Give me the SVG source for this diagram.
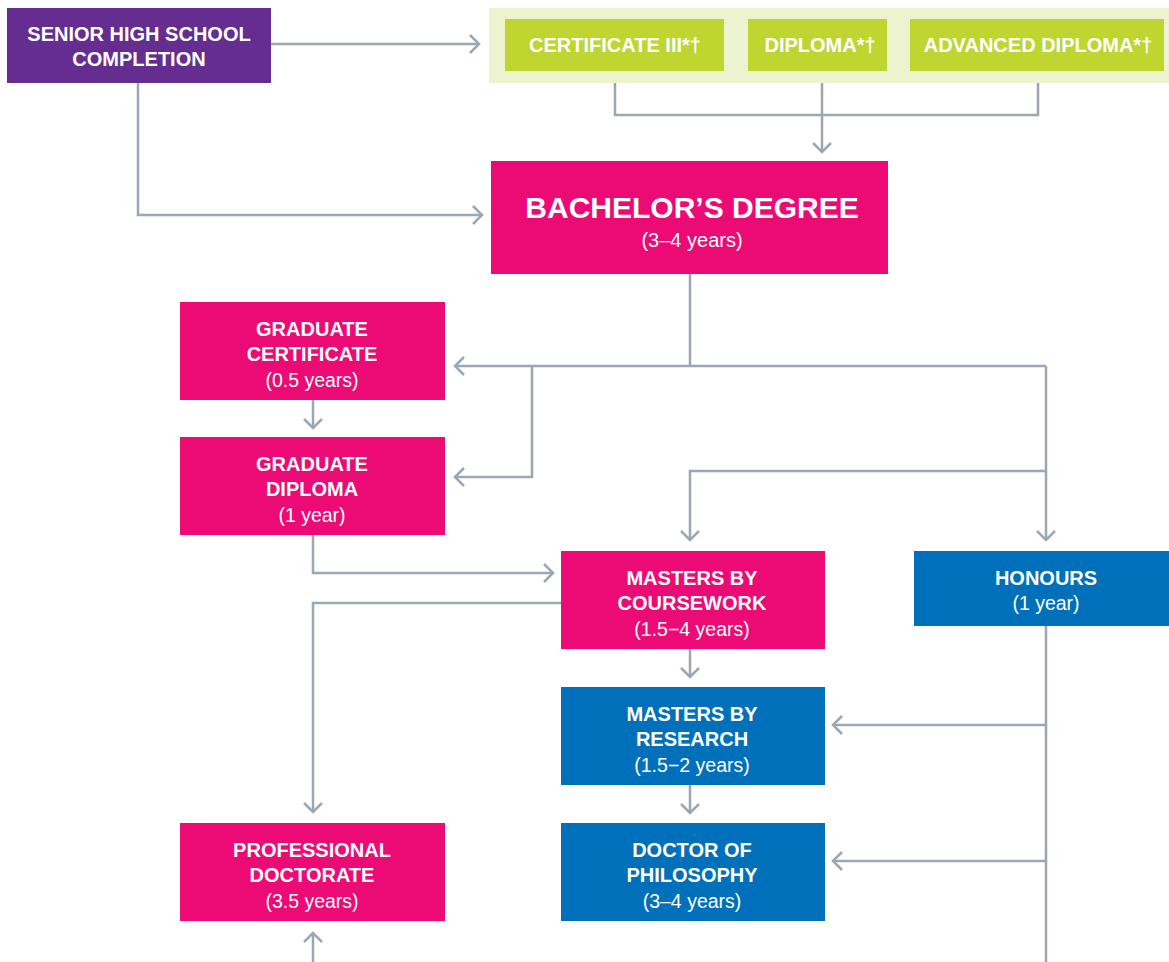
<svg xmlns="http://www.w3.org/2000/svg" width="1169" height="962" viewBox="0 0 1169 962">
<defs>
<style>
.t{font-family:"Liberation Sans",Arial,sans-serif;font-weight:bold;font-size:20px;fill:#fff;text-anchor:middle}
.y{font-family:"Liberation Sans",Arial,sans-serif;font-size:19.5px;fill:#fff;text-anchor:middle}
.pink{fill:#EC0A75}
.blue{fill:#0070BA}
.green{fill:#BED62F}
.c{fill:none;stroke:#9BA7B3;stroke-width:2.5}
</style>
<marker id="arr" viewBox="-12 -12 24 24" refX="0" refY="0" markerWidth="24" markerHeight="24" markerUnits="userSpaceOnUse" orient="auto">
<path d="M-9,-9 L0,0 L-9,9" fill="none" stroke="#9BA7B3" stroke-width="2.5"/>
</marker>
</defs>
<rect width="1169" height="962" fill="#fff"/>

<g id="connectors">
<path class="c" d="M271,44 H479" marker-end="url(#arr)"/>
<path class="c" d="M138,83 V215 H482" marker-end="url(#arr)"/>
<path class="c" d="M615,83 V115 H1038 V83"/>
<path class="c" d="M822,83 V152" marker-end="url(#arr)"/>
<path class="c" d="M690,274 V366"/>
<path class="c" d="M1046,366 H455" marker-end="url(#arr)"/>
<path class="c" d="M532,366 V477 H455" marker-end="url(#arr)"/>
<path class="c" d="M1046,366 V540" marker-end="url(#arr)"/>
<path class="c" d="M1046,471 H690 V540" marker-end="url(#arr)"/>
<path class="c" d="M313,400 V428" marker-end="url(#arr)"/>
<path class="c" d="M313,535 V573 H553" marker-end="url(#arr)"/>
<path class="c" d="M561,603 H313 V812" marker-end="url(#arr)"/>
<path class="c" d="M690,649 V677" marker-end="url(#arr)"/>
<path class="c" d="M690,785 V813" marker-end="url(#arr)"/>
<path class="c" d="M1046,626 V962"/>
<path class="c" d="M1046,725 H833" marker-end="url(#arr)"/>
<path class="c" d="M1046,861 H833" marker-end="url(#arr)"/>
<path class="c" d="M313,962 V933" marker-end="url(#arr)"/>
</g>

<g id="senior-high-school">
<rect x="7" y="8" width="264" height="75" fill="#652D8F"/>
<text class="t" x="139" y="41">SENIOR HIGH SCHOOL</text>
<text class="t" x="139" y="66">COMPLETION</text>
</g>

<g id="vet-group">
<rect x="489" y="8" width="690" height="75" fill="#EDF3CE"/>
</g>
<g id="certificate-iii">
<rect class="green" x="505" y="19" width="219" height="52"/>
<text class="t" x="615" y="52">CERTIFICATE III*†</text>
</g>
<g id="diploma">
<rect class="green" x="748" y="19" width="139" height="52"/>
<text class="t" x="820" y="52">DIPLOMA*†</text>
</g>
<g id="advanced-diploma">
<rect class="green" x="910" y="19" width="254" height="52"/>
<text class="t" x="1038" y="52">ADVANCED DIPLOMA*†</text>
</g>

<g id="bachelors-degree">
<rect class="pink" x="491" y="161" width="397" height="113"/>
<text class="t" x="692" y="218" style="font-size:30px">BACHELOR’S DEGREE</text>
<text class="y" x="692" y="247" style="font-size:20px">(3–4 years)</text>
</g>

<g id="graduate-certificate">
<rect class="pink" x="180" y="302" width="265" height="98"/>
<text class="t" x="312" y="336">GRADUATE</text>
<text class="t" x="312" y="361">CERTIFICATE</text>
<text class="y" x="312" y="387">(0.5 years)</text>
</g>

<g id="graduate-diploma">
<rect class="pink" x="180" y="437" width="265" height="98"/>
<text class="t" x="312" y="471">GRADUATE</text>
<text class="t" x="312" y="496">DIPLOMA</text>
<text class="y" x="312" y="522">(1 year)</text>
</g>

<g id="masters-by-coursework">
<rect class="pink" x="561" y="551" width="264" height="98"/>
<text class="t" x="692" y="585">MASTERS BY</text>
<text class="t" x="692" y="610">COURSEWORK</text>
<text class="y" x="692" y="636">(1.5−4 years)</text>
</g>

<g id="honours">
<rect class="blue" x="914" y="551" width="265" height="75"/>
<text class="t" x="1046" y="585">HONOURS</text>
<text class="y" x="1046" y="610">(1 year)</text>
</g>

<g id="masters-by-research">
<rect class="blue" x="561" y="687" width="264" height="98"/>
<text class="t" x="692" y="721">MASTERS BY</text>
<text class="t" x="692" y="746">RESEARCH</text>
<text class="y" x="692" y="772">(1.5−2 years)</text>
</g>

<g id="doctor-of-philosophy">
<rect class="blue" x="561" y="823" width="264" height="98"/>
<text class="t" x="692" y="857">DOCTOR OF</text>
<text class="t" x="692" y="882">PHILOSOPHY</text>
<text class="y" x="692" y="908">(3–4 years)</text>
</g>

<g id="professional-doctorate">
<rect class="pink" x="180" y="823" width="265" height="98"/>
<text class="t" x="312" y="857">PROFESSIONAL</text>
<text class="t" x="312" y="882">DOCTORATE</text>
<text class="y" x="312" y="908">(3.5 years)</text>
</g>
</svg>
